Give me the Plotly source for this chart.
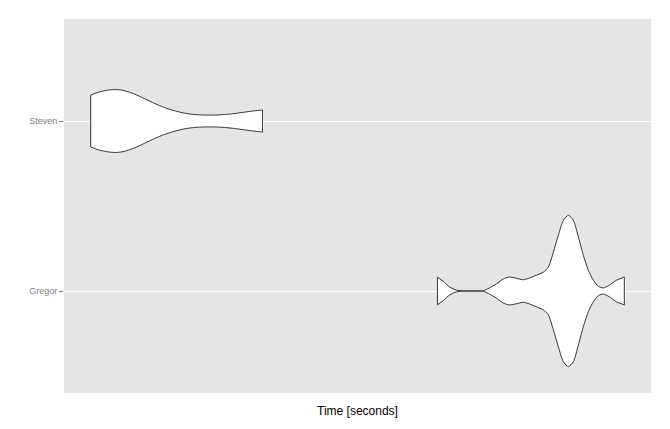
import plotly.graph_objects as go

# Categories (y axis) and their positions
categories = ["Gregor", "Steven"]

# Violin profiles: time [s] and half-width (density scaled, in category units)
steven_time = [1.00, 1.08, 1.18, 1.26, 1.34, 1.44, 1.54, 1.64, 1.74, 1.84, 1.94, 2.04, 2.14,
               2.24, 2.34, 2.44, 2.54, 2.64, 2.72]
steven_halfwidth = [0.152, 0.170, 0.182, 0.185, 0.178, 0.158, 0.131, 0.103, 0.079, 0.060, 0.046,
                    0.038, 0.035, 0.035, 0.038, 0.044, 0.052, 0.060, 0.065]

gregor_time = [4.47, 4.53, 4.59, 4.66, 4.73, 4.83, 4.93, 4.99, 5.06, 5.13, 5.19, 5.26, 5.33,
               5.39, 5.46, 5.53, 5.58, 5.63, 5.68, 5.73, 5.78, 5.83, 5.88, 5.93, 5.98, 6.03,
               6.08, 6.13, 6.19, 6.26, 6.34]
gregor_halfwidth = [0.081, 0.056, 0.024, 0.005, 0.001, 0.001, 0.002, 0.018, 0.042, 0.071, 0.082,
                    0.075, 0.066, 0.076, 0.093, 0.111, 0.141, 0.229, 0.328, 0.416, 0.445, 0.416,
                    0.318, 0.210, 0.122, 0.063, 0.028, 0.018, 0.034, 0.063, 0.082]

series = {"Gregor": (gregor_time, gregor_halfwidth), "Steven": (steven_time, steven_halfwidth)}

LINE = dict(color="#333333", width=1)

fig = go.Figure()
for i, cat in enumerate(categories):
    pos = i + 1
    t, hw = series[cat]
    upper = [pos + h for h in hw]
    lower = [pos - h for h in hw]
    # white fill
    fig.add_trace(go.Scatter(
        x=list(t) + list(reversed(t)), y=upper + list(reversed(lower)),
        mode="lines", fill="toself", fillcolor="white",
        line=dict(color="rgba(0,0,0,0)", width=0, shape="spline", smoothing=0.7),
        hoverinfo="skip", showlegend=False))
    # outline: smooth top and bottom, straight ends
    for side in (upper, lower):
        fig.add_trace(go.Scatter(
            x=t, y=side, mode="lines",
            line=dict(**LINE, shape="spline", smoothing=0.7),
            hoverinfo="skip", showlegend=False))
    for k in (0, -1):
        fig.add_trace(go.Scatter(
            x=[t[k], t[k]], y=[lower[k], upper[k]], mode="lines",
            line=LINE, hoverinfo="skip", showlegend=False))

all_t = steven_time + gregor_time
lo, hi = min(all_t), max(all_t)
pad = (hi - lo) * 0.05

fig.update_layout(
    width=662, height=421,
    margin=dict(l=56, r=19, t=11, b=36),
    paper_bgcolor="white", plot_bgcolor="#E5E5E5",
    font=dict(family="Liberation Sans, Arial, sans-serif"),
    xaxis=dict(range=[lo - pad, hi + pad], showgrid=False, zeroline=False,
               showticklabels=False, ticks="",
               title=dict(text="Time [seconds]", font=dict(size=12, color="black"), standoff=13)),
    yaxis=dict(range=[0.4, 2.6], tickmode="array", tickvals=[1, 2], ticktext=categories,
               showgrid=True, gridcolor="white", gridwidth=1, zeroline=False,
               ticks="outside", ticklen=4, tickcolor="#7F7F7F", tickwidth=1,
               tickfont=dict(size=9, color="#7F7F7F")),
)

fig.write_html("out.html")
